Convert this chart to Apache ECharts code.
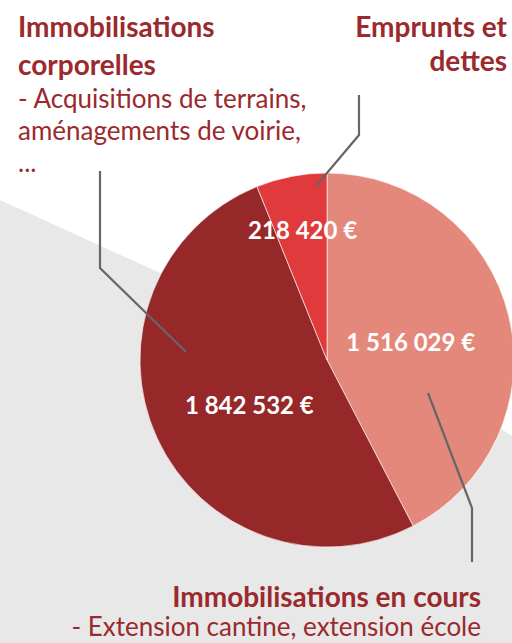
<!DOCTYPE html>
<html>
<head>
<meta charset="utf-8">
<script src="https://cdn.jsdelivr.net/npm/echarts@6/dist/echarts.min.js"></script>
<style>
* { padding: 0; margin: 0; }
html, body { width: 512px; height: 643px; background: #fff; overflow: hidden; }
#chart { width: 512px; height: 643px; }
#chart text { font-variant-ligatures: none; font-feature-settings: "liga" 0; }
</style>
</head>
<body>
<div id="chart"></div>
<script>
// données (ordre horaire depuis midi)
const categories = ['Immobilisations en cours', 'Immobilisations corporelles', 'Emprunts et dettes']
const values = [1516029, 1842532, 218420]
const colors = ['#e4887c', '#97282a', '#e03a3c']

const titleColor = '#9a2a2d'
const lineColor = '#666666'
const font = 'Lato'

const fmt = v => String(v).replace(/\B(?=(\d{3})+(?!\d))/g, ' ') + ' €'

// décalage des étiquettes de valeurs
const labelShift = [[-10, 4], [10, 4], [-6, -36]]

const chart = echarts.init(document.getElementById('chart'), null, { renderer: 'svg' })

const text = (x, y, str, opt) => ({
  type: 'text',
  x, y,
  style: Object.assign({
    text: str,
    fill: titleColor,
    font: '26px ' + font
  }, opt || {}),
  z: 10
})
const bold = (x, y, str, opt) => text(x, y, str, Object.assign({ font: 'bold 28px ' + font }, opt || {}))

const leader = pts => ({
  type: 'polyline',
  shape: { points: pts },
  style: { stroke: lineColor, lineWidth: 2.2, fill: null },
  z: 10
})

chart.setOption({
  animation: false,
  graphic: [
    // bande grise de fond
    {
      type: 'polygon',
      shape: { points: [[0, 200], [500, 428], [512, 436], [512, 643], [0, 643]] },
      style: { fill: '#e8e8e8' },
      z: -10
    },
    bold(18, 12, 'Immobilisations'),
    bold(18, 50, 'corporelles'),
    text(18, 85, '- Acquisitions de terrains,'),
    text(18, 117, 'aménagements de voirie,'),
    text(18, 149, '...'),
    bold(507, 12, 'Emprunts et', { align: 'right' }),
    bold(507, 46, 'dettes', { align: 'right' }),
    bold(481, 582, 'Immobilisations en cours', { align: 'right' }),
    text(481, 613, '- Extension cantine, extension école', { align: 'right' }),
    leader([[359, 95], [359, 135], [316, 186]]),
    leader([[100, 171], [100, 268], [186, 352]]),
    leader([[428, 393], [472, 508], [472, 562]])
  ],
  series: [
    {
      type: 'pie',
      center: [327, 360],
      radius: 187,
      startAngle: 90,
      clockwise: true,
      silent: true,
      itemStyle: {
        borderColor: 'rgba(255,255,255,0.6)',
        borderWidth: 1
      },
      label: {
        show: true,
        position: 'inside',
        color: '#fff',
        fontFamily: font,
        fontWeight: 'bold',
        fontSize: 24,
        formatter: p => fmt(p.value)
      },
      labelLine: { show: false },
      labelLayout: p => ({ dx: labelShift[p.dataIndex][0], dy: labelShift[p.dataIndex][1] }),
      data: categories.map((name, i) => ({
        name,
        value: values[i],
        itemStyle: { color: colors[i] }
      }))
    }
  ]
})
</script>
</body>
</html>
